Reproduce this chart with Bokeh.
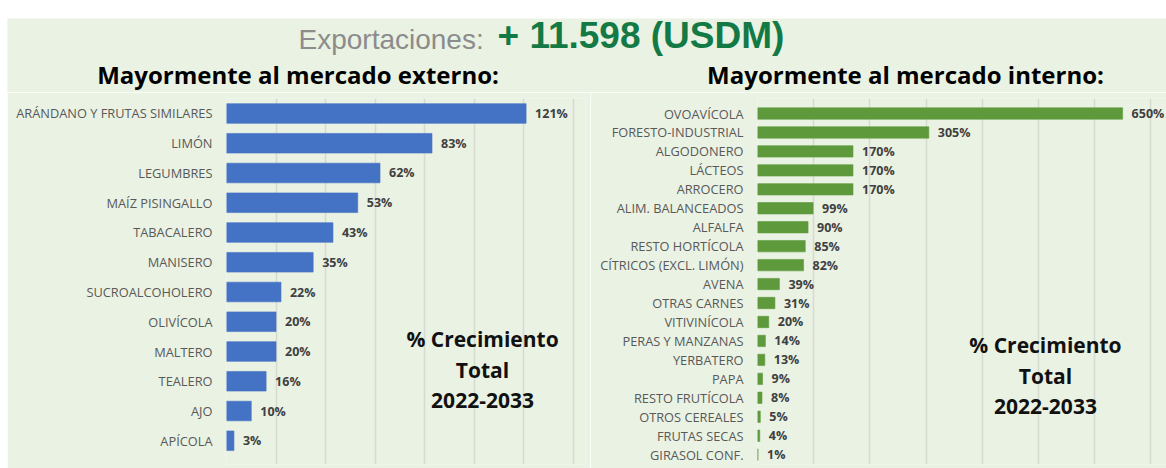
from bokeh.plotting import figure
from bokeh.models import Range1d, FixedTicker, Spacer
from bokeh.layouts import column, row
from bokeh.core.properties import value
from bokeh.embed import file_html
from bokeh.resources import INLINE

# ---------------- data ----------------
ext_cats = ["ARÁNDANO Y FRUTAS SIMILARES", "LIMÓN", "LEGUMBRES", "MAÍZ PISINGALLO",
            "TABACALERO", "MANISERO", "SUCROALCOHOLERO", "OLIVÍCOLA", "MALTERO",
            "TEALERO", "AJO", "APÍCOLA"]
ext_vals = [121, 83, 62, 53, 43, 35, 22, 20, 20, 16, 10, 3]

int_cats = ["OVOAVÍCOLA", "FORESTO-INDUSTRIAL", "ALGODONERO", "LÁCTEOS", "ARROCERO",
            "ALIM. BALANCEADOS", "ALFALFA", "RESTO HORTÍCOLA", "CÍTRICOS (EXCL. LIMÓN)",
            "AVENA", "OTRAS CARNES", "VITIVINÍCOLA", "PERAS Y MANZANAS", "YERBATERO",
            "PAPA", "RESTO FRUTÍCOLA", "OTROS CEREALES", "FRUTAS SECAS", "GIRASOL CONF."]
int_vals = [650, 305, 170, 170, 170, 99, 90, 85, 82, 39, 31, 20, 14, 13, 9, 8, 5, 4, 1]

ext_ticks = [0, 20, 40, 60, 80, 100, 120, 140]
int_ticks = [0, 100, 200, 300, 400, 500, 600, 700]

title_gray = "Exportaciones:"
title_green = "+ 11.598 (USDM)"
head_ext = "Mayormente al mercado externo:"
head_int = "Mayormente al mercado interno:"
note_lines = ["% Crecimiento", "Total", "2022-2033"]

# ---------------- styles ----------------
BG = "#EAF2E3"
BLUE = "#4472C4"
GREEN = "#5E9A3C"
GRID = "#D6DBD2"
LABEL = "#595959"
VAL = "#404040"
FONT = "Open Sans"

LEFT_PAD = 7
TOP_PAD = 18
W = 1166 - LEFT_PAD


def bar_chart(cats, vals, ticks, color, fw, fh, mb_left, mb_right, xmax, bar_h,
              y_bottom, y_top):
    pos = list(range(len(cats)))  # row index, 0 = top row
    p = figure(frame_width=fw, frame_height=fh, output_backend="svg",
               toolbar_location=None, title=None, x_axis_location=None,
               y_range=Range1d(y_bottom, y_top), x_range=Range1d(0, xmax),
               min_border_left=mb_left, min_border_right=mb_right,
               min_border_top=6, min_border_bottom=4)
    p.background_fill_color = BG
    p.border_fill_color = BG
    p.outline_line_color = None
    p.ygrid.grid_line_color = None
    p.xgrid.ticker = FixedTicker(ticks=ticks)
    p.xgrid.grid_line_color = GRID
    p.xgrid.grid_line_width = 1.5
    ax = p.yaxis[0]
    ax.ticker = FixedTicker(ticks=pos, minor_ticks=[])
    ax.major_label_overrides = {i: c for i, c in zip(pos, cats)}
    ax.axis_line_color = None
    ax.major_tick_line_color = None
    ax.minor_tick_line_color = None
    ax.major_tick_out = 0
    ax.major_tick_in = 0
    ax.major_label_standoff = 14
    ax.major_label_text_font = FONT
    ax.major_label_text_font_size = "12.8px"
    ax.major_label_text_color = LABEL
    p.hbar(y=pos, right=vals, left=0, height=bar_h, fill_color=color,
           line_color=color, line_alpha=0.6)
    p.text(x=vals, y=pos, text=[f"{v}%" for v in vals], x_offset=9,
           text_baseline="middle", text_align="left", text_font=value(FONT),
           text_font_style="bold", text_font_size="12.5px", text_color=VAL)
    return p


def add_note(p, xc, rows):
    p.text(x=[xc] * len(rows), y=rows, text=note_lines,
           text_align="center", text_baseline="middle",
           text_font=value(FONT), text_font_style="bold",
           text_font_size="21px", text_color="#111111")


# left chart: page x 7..590, frame 226..585, frame y 98..464, rows 29.75 px from 113
p1 = bar_chart(ext_cats, ext_vals, ext_ticks, BLUE, fw=359, fh=366,
               mb_left=219, mb_right=5, xmax=359 / 2.476, bar_h=0.66,
               y_bottom=11.798, y_top=-0.504)
add_note(p1, 103.4, [7.563, 8.622, 9.647])

# right chart: page x 590..1166, frame 757..1166, frame y 98..464, rows 18.95 px from 113
p2 = bar_chart(int_cats, int_vals, int_ticks, GREEN, fw=409, fh=366,
               mb_left=167, mb_right=0, xmax=409 / 0.5617, bar_h=0.6,
               y_bottom=18.52, y_top=-0.7916)
add_note(p2, 512.7, [12.19, 13.83, 15.44])

# header: page y 18..92
h = figure(width=W, height=74, output_backend="svg", toolbar_location=None,
           title=None, x_axis_location=None, y_axis_location=None,
           x_range=Range1d(LEFT_PAD, LEFT_PAD + W), y_range=Range1d(92, TOP_PAD),
           min_border=0)
h.background_fill_color = BG
h.border_fill_color = BG
h.outline_line_color = None
h.grid.visible = False
h.text(x=[298], y=[38.8], text=[title_gray], text_font=value("Liberation Sans"),
       text_font_size="28px", text_color="#8C8C8C", text_baseline="middle")
h.text(x=[497], y=[34.7], text=[title_green], text_font=value("Liberation Sans"),
       text_font_style="bold", text_font_size="37px", text_color="#137A45",
       text_baseline="middle")
h.text(x=[297.5, 905], y=[73.7, 73.7], text=[head_ext, head_int], text_align="center",
       text_font=value(FONT), text_font_style="bold", text_font_size="24px",
       text_color="#000000", text_baseline="middle")

layout = row(Spacer(width=LEFT_PAD, height=468),
             column(Spacer(width=W, height=TOP_PAD), h, row(p1, p2)))

open("out.html", "w").write(file_html(layout, INLINE))
